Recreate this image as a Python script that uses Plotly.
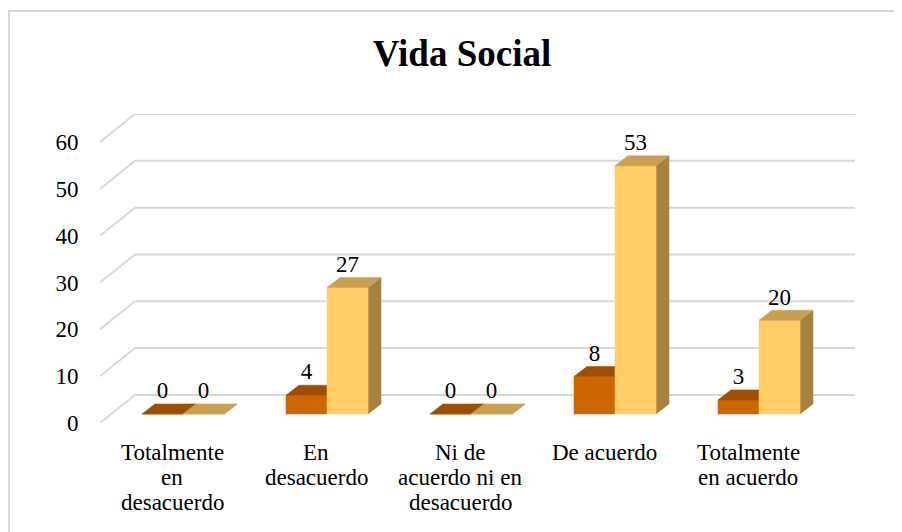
import plotly.graph_objects as go

# ---------------- data ----------------
categories = [
    ["Totalmente", "en", "desacuerdo"],
    ["En", "desacuerdo"],
    ["Ni de", "acuerdo ni en", "desacuerdo"],
    ["De acuerdo"],
    ["Totalmente", "en acuerdo"],
]
series_a = [0, 4, 0, 8, 3]      # orange
series_b = [0, 27, 0, 53, 20]   # yellow
y_ticks = [0, 10, 20, 30, 40, 50, 60]
title_text = "Vida Social"

# ---------------- geometry (pseudo 3-D) ----------------
OFF = 8                      # page body margin
W, H = 902 - OFF, 532 - OFF
ML, MT = 100 - OFF, 114 - OFF
PLOT_R, PLOT_B = 855 - OFF, 423 - OFF
MR, MB = W - PLOT_R, H - PLOT_B
PW, PH = PLOT_R - ML, PLOT_B - MT
DX, DY = 0.243, 6.0          # full floor depth offset (data units)
BDX, BDY = 0.09, 2.14        # bar depth offset
BW = 0.285                   # bar width (category units)
OX, OY = (DX - BDX) / 2, (DY - BDY) / 2
XR = [-0.5, 4.5 + DX]
YR = [0, 66]

FONT = "Liberation Serif"
FS = 23
GRID = "#D9D9D9"
COL = {
    "a": dict(front="#CC6600", top="#9E4E00", side="#8A4500"),
    "b": dict(front="#FFCC66", top="#C9A052", side="#A6823E"),
}

fig = go.Figure()

# gridlines: front diagonal + back horizontal
gx, gy = [], []
for v in y_ticks:
    gx += [XR[0], XR[0] + DX, XR[1], None]
    gy += [v, v + DY, v + DY, None]
fig.add_trace(go.Scatter(x=gx, y=gy, mode="lines",
                         line=dict(color=GRID, width=2),
                         hoverinfo="skip", showlegend=False))


def faces(values, side):
    fx, fy, tx, ty, sx, sy = [], [], [], [], [], []
    for i, v in enumerate(values):
        if side == "a":
            x0, x1 = i - BW + OX, i + OX
        else:
            x0, x1 = i + OX, i + BW + OX
        y0, y1 = OY, OY + v
        fx += [x0, x1, x1, x0, x0, None]
        fy += [y0, y0, y1, y1, y0, None]
        tx += [x0, x1, x1 + BDX, x0 + BDX, x0, None]
        ty += [y1, y1, y1 + BDY, y1 + BDY, y1, None]
        sx += [x1, x1 + BDX, x1 + BDX, x1, x1, None]
        sy += [y0, y0 + BDY, y1 + BDY, y1, y0, None]
    return (fx, fy), (tx, ty), (sx, sy)


label_x, label_y, label_t = [], [], []
for key, vals in (("a", series_a), ("b", series_b)):
    (fx, fy), (tx, ty), (sx, sy) = faces(vals, key)
    for (xx, yy), c in (((sx, sy), COL[key]["side"]),
                        ((fx, fy), COL[key]["front"]),
                        ((tx, ty), COL[key]["top"])):
        fig.add_trace(go.Scatter(x=xx, y=yy, mode="lines", fill="toself",
                                 fillcolor=c, line=dict(color=c, width=0.5),
                                 hoverinfo="skip", showlegend=False))
    for i, v in enumerate(vals):
        cx = (i - BW / 2 + OX) if key == "a" else (i + BW / 2 + OX)
        label_x.append(cx)
        label_y.append(OY + v + BDY)
        label_t.append(str(v))

fig.add_trace(go.Scatter(x=label_x, y=label_y, mode="text", text=label_t,
                         textposition="top center",
                         textfont=dict(family=FONT, size=FS, color="#000000"),
                         hoverinfo="skip", showlegend=False))

# category labels (one annotation per line)
line_px = [452 - OFF, 477 - OFF, 502 - OFF]
for i, lines in enumerate(categories):
    for j, t in enumerate(lines):
        fig.add_annotation(x=i, y=(PLOT_B - line_px[j]) / PH, xref="x", yref="paper",
                           text=t, showarrow=False, xanchor="center", yanchor="middle",
                           font=dict(family=FONT, size=FS, color="#000000"))

# outer frame
fig.add_shape(type="rect", xref="paper", yref="paper",
              x0=(8 - OFF + 1 - ML) / PW, x1=(W + 10 - ML) / PW,
              y0=(PLOT_B - (H + 10)) / PH, y1=(PLOT_B - (11 - OFF)) / PH,
              line=dict(color=GRID, width=2), layer="below")

fig.update_layout(
    width=W, height=H,
    margin=dict(l=ML, r=MR, t=MT, b=MB),
    paper_bgcolor="white", plot_bgcolor="white",
    font=dict(family=FONT),
    title=dict(text="<b>" + title_text + "</b>", x=(462 - OFF) / W, xanchor="center",
               y=1 - (53 - OFF) / H, yanchor="middle",
               font=dict(family=FONT, size=37, color="#000000")),
    xaxis=dict(range=XR, showgrid=False, zeroline=False, showticklabels=False,
               showline=False, fixedrange=True),
    yaxis=dict(range=YR, tickvals=y_ticks, ticktext=[str(v) for v in y_ticks],
               showgrid=False, zeroline=False, showline=False,
               ticks="outside", ticklen=16, tickcolor="rgba(0,0,0,0)",
               tickfont=dict(family=FONT, size=FS, color="#000000"),
               fixedrange=True),
    showlegend=False,
)

fig.write_html("out.html")
